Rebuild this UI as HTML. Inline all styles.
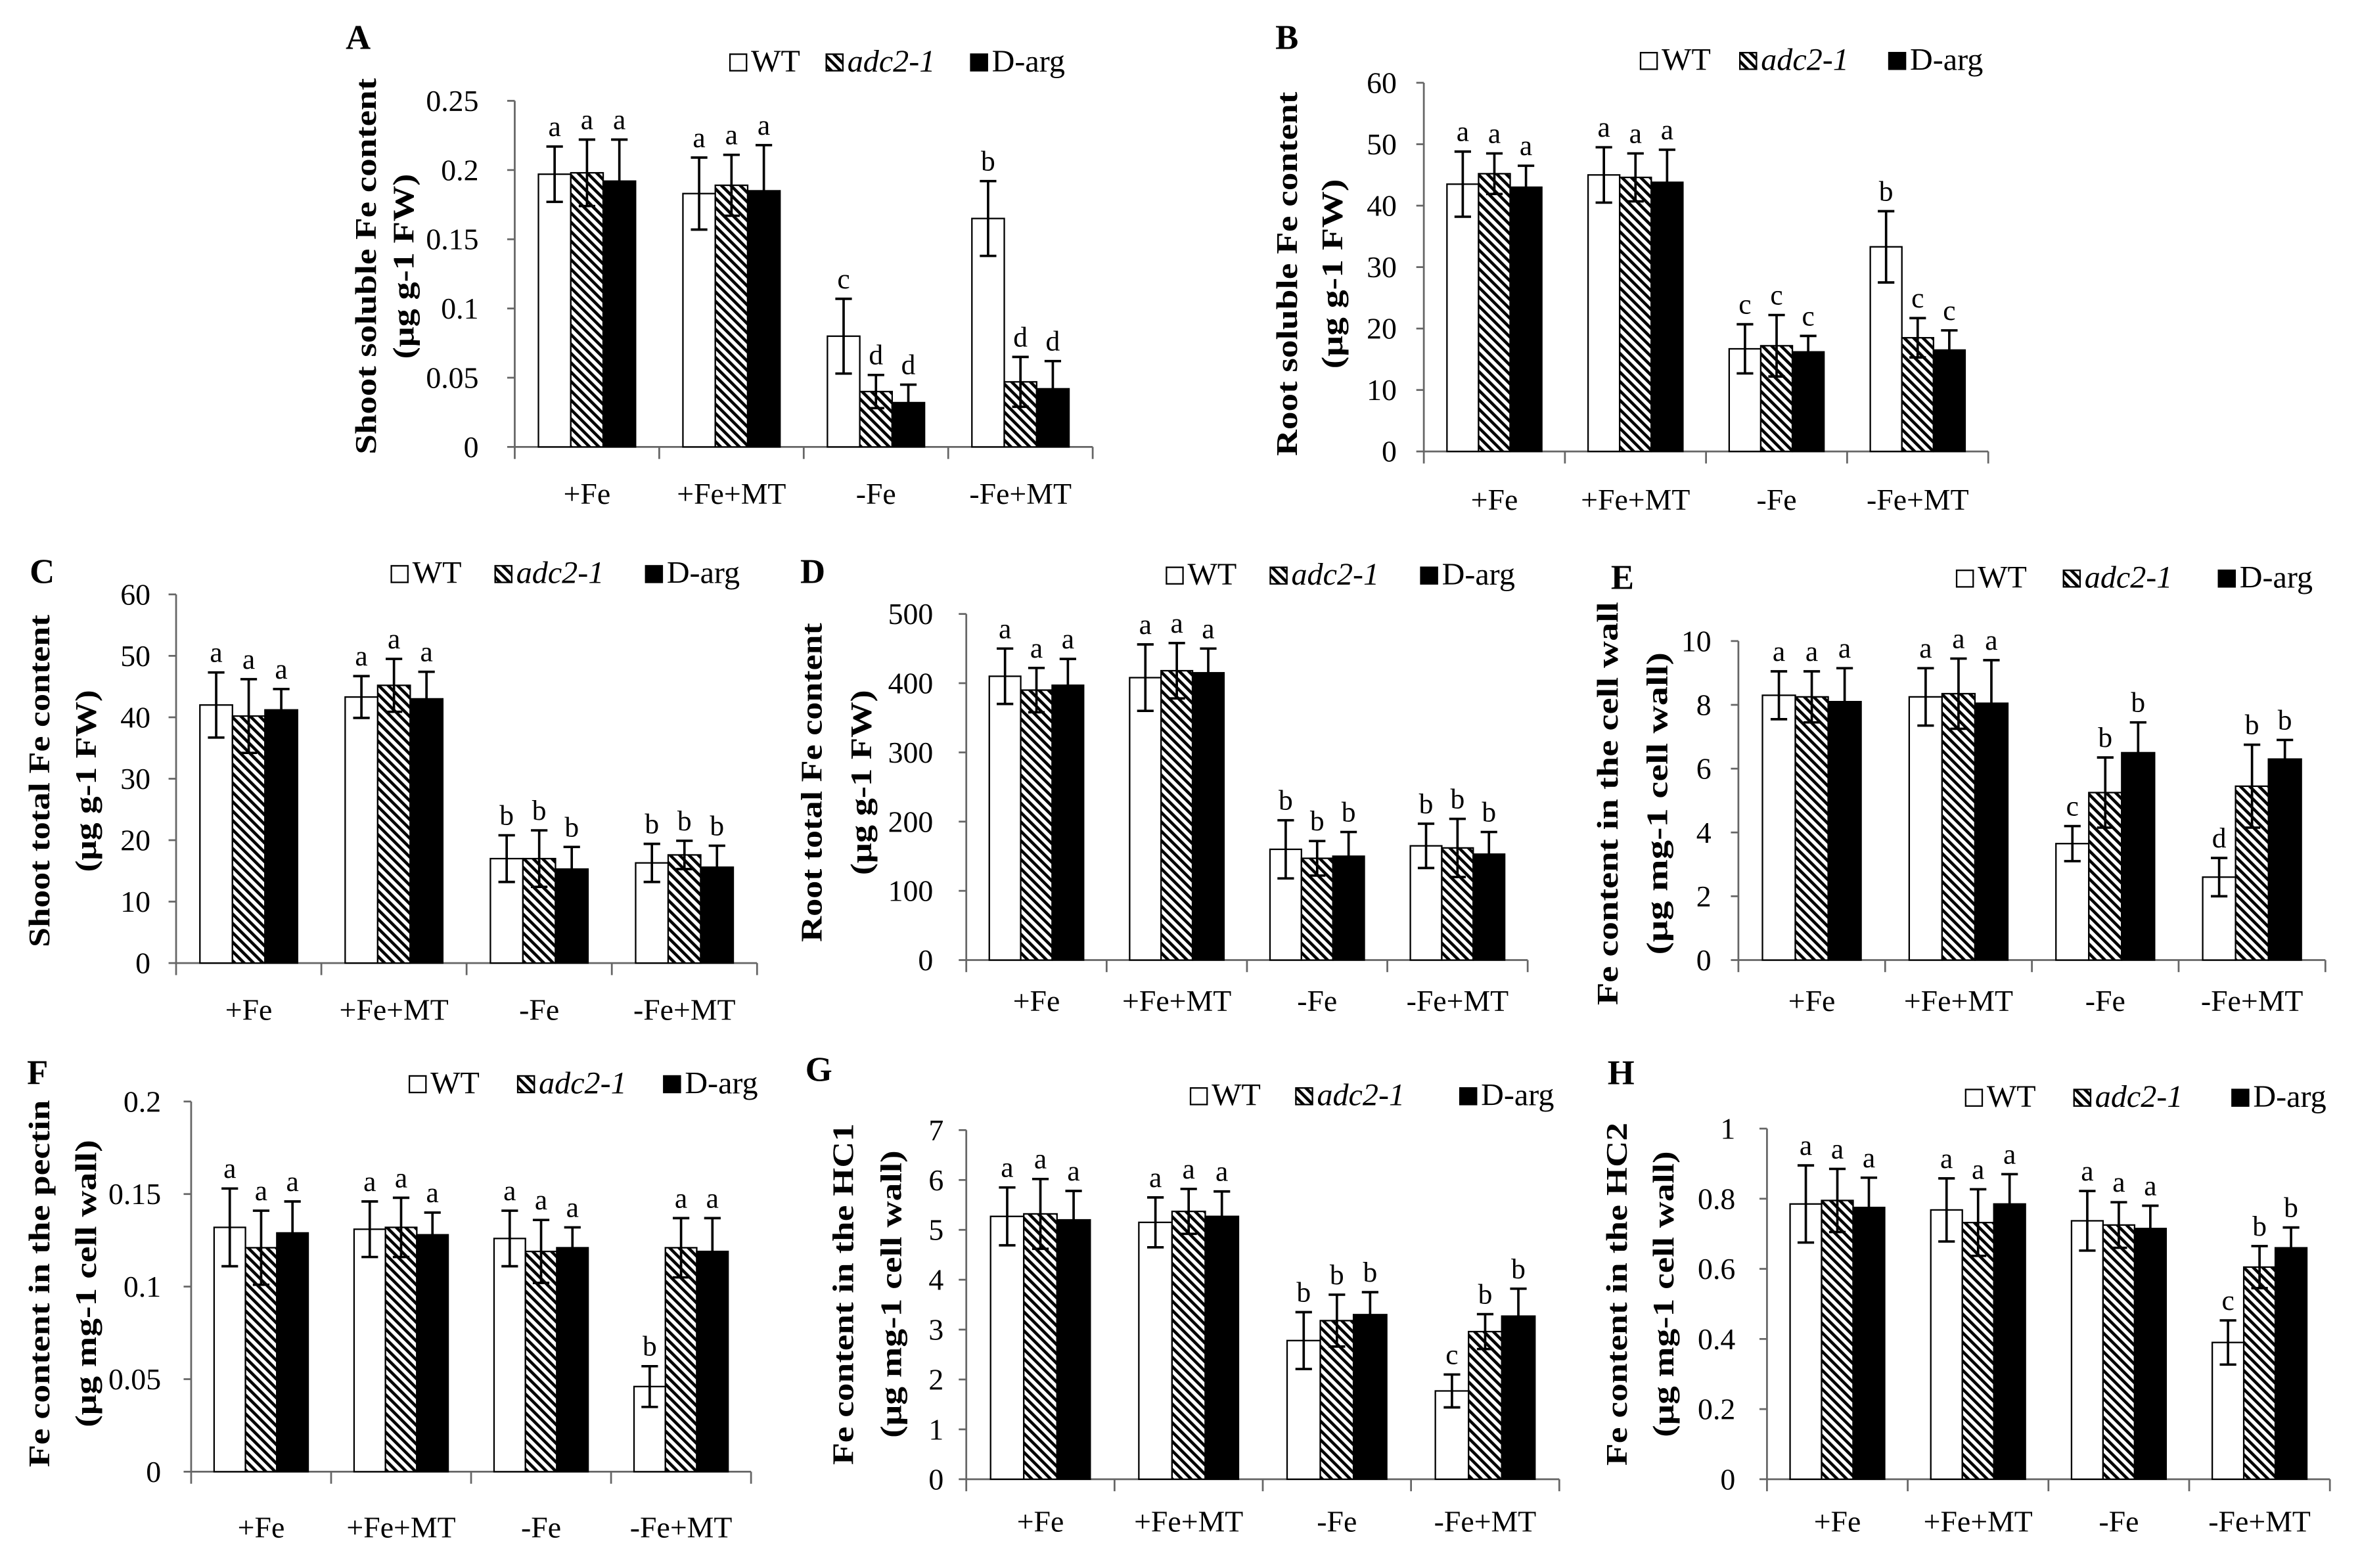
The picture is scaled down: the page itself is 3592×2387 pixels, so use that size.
<!DOCTYPE html>
<html><head><meta charset="utf-8">
<style>
html,body{margin:0;padding:0;background:#fff;}
svg{display:block;}
text{font-family:"Liberation Serif",serif;fill:#000;}
</style></head>
<body>
<svg id="fig" width="3592" height="2387" viewBox="0 0 1568 1042" preserveAspectRatio="none" xmlns="http://www.w3.org/2000/svg">
<defs>
<pattern id="hatch" patternUnits="userSpaceOnUse" width="4.4" height="4.4" patternTransform="rotate(-45)">
<rect width="4.4" height="4.4" fill="#fff"/>
<rect x="0" y="0" width="2" height="4.4" fill="#000"/>
</pattern>
</defs>
</svg>
<script>
// ---- shared data ----
const categories = ["+Fe", "+Fe+MT", "-Fe", "-Fe+MT"];
const seriesNames = ["WT", "adc2-1", "D-arg"];

// Panel A: shoot soluble Fe
const aTicks = [0, 0.05, 0.1, 0.15, 0.2, 0.25];
const aTickLabels = ["0", "0.05", "0.1", "0.15", "0.2", "0.25"];
const aWT = [0.197, 0.183, 0.080, 0.165];
const aAdc = [0.198, 0.189, 0.040, 0.047];
const aDarg = [0.192, 0.185, 0.032, 0.042];
const aErrWT = [0.020, 0.026, 0.027, 0.027];
const aErrAdc = [0.024, 0.022, 0.012, 0.018];
const aErrDarg = [0.030, 0.033, 0.013, 0.020];
const aLetters = [["a","a","a"],["a","a","a"],["c","d","d"],["b","d","d"]];

// Panel B: root soluble Fe
const bTicks = [0, 10, 20, 30, 40, 50, 60];
const bTickLabels = ["0", "10", "20", "30", "40", "50", "60"];
const bWT = [43.5, 45.0, 16.7, 33.3];
const bAdc = [45.2, 44.6, 17.2, 18.5];
const bDarg = [43.0, 43.8, 16.2, 16.5];
const bErrWT = [5.3, 4.5, 4.0, 5.8];
const bErrAdc = [3.3, 3.9, 5.0, 3.2];
const bErrDarg = [3.5, 5.3, 2.6, 3.2];
const bLetters = [["a","a","a"],["a","a","a"],["c","c","c"],["b","c","c"]];

// Panel C: shoot total Fe
const cTicks = [0, 10, 20, 30, 40, 50, 60];
const cTickLabels = ["0", "10", "20", "30", "40", "50", "60"];
const cWT = [42.0, 43.3, 17.0, 16.3];
const cAdc = [40.2, 45.2, 17.0, 17.6];
const cDarg = [41.2, 43.0, 15.3, 15.6];
const cErrWT = [5.3, 3.4, 3.8, 3.1];
const cErrAdc = [6.0, 4.3, 4.6, 2.3];
const cErrDarg = [3.4, 4.4, 3.6, 3.5];
const cLetters = [["a","a","a"],["a","a","a"],["b","b","b"],["b","b","b"]];

// Panel D: root total Fe
const dTicks = [0, 100, 200, 300, 400, 500];
const dTickLabels = ["0", "100", "200", "300", "400", "500"];
const dWT = [410, 408, 160, 165];
const dAdc = [390, 418, 147, 162];
const dDarg = [397, 415, 150, 153];
const dErrWT = [40, 48, 42, 32];
const dErrAdc = [32, 40, 25, 42];
const dErrDarg = [38, 35, 35, 32];
const dLetters = [["a","a","a"],["a","a","a"],["b","b","b"],["b","b","b"]];

// Panel E: Fe in cell wall
const eTicks = [0, 2, 4, 6, 8, 10];
const eTickLabels = ["0", "2", "4", "6", "8", "10"];
const eWT = [8.3, 8.25, 3.65, 2.6];
const eAdc = [8.25, 8.35, 5.25, 5.45];
const eDarg = [8.1, 8.05, 6.5, 6.3];
const eErrWT = [0.75, 0.9, 0.55, 0.6];
const eErrAdc = [0.8, 1.1, 1.1, 1.3];
const eErrDarg = [1.05, 1.35, 0.95, 0.6];
const eLetters = [["a","a","a"],["a","a","a"],["c","b","b"],["d","b","b"]];

// Panel F: Fe in pectin
const fTicks = [0, 0.05, 0.1, 0.15, 0.2];
const fTickLabels = ["0", "0.05", "0.1", "0.15", "0.2"];
const fWT = [0.132, 0.131, 0.126, 0.046];
const fAdc = [0.121, 0.132, 0.119, 0.121];
const fDarg = [0.129, 0.128, 0.121, 0.119];
const fErrWT = [0.021, 0.015, 0.015, 0.011];
const fErrAdc = [0.020, 0.016, 0.017, 0.016];
const fErrDarg = [0.017, 0.012, 0.011, 0.018];
const fLetters = [["a","a","a"],["a","a","a"],["a","a","a"],["b","a","a"]];

// Panel G: Fe in HC1
const gTicks = [0, 1, 2, 3, 4, 5, 6, 7];
const gTickLabels = ["0", "1", "2", "3", "4", "5", "6", "7"];
const gWT = [5.27, 5.15, 2.78, 1.77];
const gAdc = [5.32, 5.37, 3.18, 2.96];
const gDarg = [5.2, 5.27, 3.3, 3.27];
const gErrWT = [0.58, 0.5, 0.57, 0.33];
const gErrAdc = [0.7, 0.45, 0.52, 0.35];
const gErrDarg = [0.58, 0.5, 0.45, 0.55];
const gLetters = [["a","a","a"],["a","a","a"],["b","b","b"],["c","b","b"]];

// Panel H: Fe in HC2
const hTicks = [0, 0.2, 0.4, 0.6, 0.8, 1];
const hTickLabels = ["0", "0.2", "0.4", "0.6", "0.8", "1"];
const hWT = [0.785, 0.768, 0.737, 0.39];
const hAdc = [0.795, 0.732, 0.725, 0.605];
const hDarg = [0.775, 0.785, 0.715, 0.66];
const hErrWT = [0.11, 0.09, 0.085, 0.063];
const hErrAdc = [0.09, 0.095, 0.065, 0.06];
const hErrDarg = [0.085, 0.085, 0.065, 0.058];
const hLetters = [["a","a","a"],["a","a","a"],["a","a","a"],["c","b","b"]];

// ---- layout (display units) ----
const panels = [
 {id:"A", ticks:aTicks, tl:aTickLabels, vals:[aWT,aAdc,aDarg], errs:[aErrWT,aErrAdc,aErrDarg], letters:aLetters,
  x0:342, x1:726, y0:297, yTop:67, ymax:0.25, tickR:318, lab:[238,25], leg:[485,549,645], legY:36, catY:328,
  t1:"Shoot soluble Fe content", t2:"(\u03bcg g-1 FW)", t1x:243, t2x:268, ty:177, t1l:250, t2l:123},
 {id:"B", ticks:bTicks, tl:bTickLabels, vals:[bWT,bAdc,bDarg], errs:[bErrWT,bErrAdc,bErrDarg], letters:bLetters,
  x0:946, x1:1321, y0:300, yTop:55, ymax:60, tickR:928, lab:[855,25], leg:[1090,1156,1255], legY:35, catY:332,
  t1:"Root soluble Fe content", t2:"(\u03bcg g-1 FW)", t1x:855, t2x:885, ty:182, t1l:242, t2l:126},
 {id:"C", ticks:cTicks, tl:cTickLabels, vals:[cWT,cAdc,cDarg], errs:[cErrWT,cErrAdc,cErrDarg], letters:cLetters,
  x0:117, x1:503, y0:640, yTop:395, ymax:60, tickR:100, lab:[28,380], leg:[260,329,429], legY:376, catY:671,
  t1:"Shoot total Fe content", t2:"(\u03bcg g-1 FW)", t1x:26, t2x:57, ty:519, t1l:221, t2l:121},
 {id:"D", ticks:dTicks, tl:dTickLabels, vals:[dWT,dAdc,dDarg], errs:[dErrWT,dErrAdc,dErrDarg], letters:dLetters,
  x0:642, x1:1015, y0:638, yTop:408, ymax:500, tickR:620, lab:[540,380], leg:[775,844,944], legY:377, catY:665,
  t1:"Root total Fe content", t2:"(\u03bcg g-1 FW)", t1x:539, t2x:572, ty:520, t1l:212, t2l:123},
 {id:"E", ticks:eTicks, tl:eTickLabels, vals:[eWT,eAdc,eDarg], errs:[eErrWT,eErrAdc,eErrDarg], letters:eLetters,
  x0:1155, x1:1545, y0:638, yTop:426, ymax:10, tickR:1137, lab:[1078,384], leg:[1300,1371,1474], legY:379, catY:665,
  t1:"Fe content  in the cell wall", t2:"(\u03bcg mg-1 cell wall)", t1x:1068, t2x:1101, ty:534, t1l:268, t2l:201},
 {id:"F", ticks:fTicks, tl:fTickLabels, vals:[fWT,fAdc,fDarg], errs:[fErrWT,fErrAdc,fErrDarg], letters:fLetters,
  x0:127, x1:499, y0:978, yTop:732, ymax:0.2, tickR:107, lab:[25,713], leg:[272,344,441], legY:715, catY:1015,
  t1:"Fe content  in the pectin", t2:"(\u03bcg mg-1 cell wall)", t1x:26, t2x:57, ty:853, t1l:244, t2l:191},
 {id:"G", ticks:gTicks, tl:gTickLabels, vals:[gWT,gAdc,gDarg], errs:[gErrWT,gErrAdc,gErrDarg], letters:gLetters,
  x0:642, x1:1036, y0:983, yTop:751, ymax:7, tickR:627, lab:[544,711], leg:[791,861,970], legY:723, catY:1011,
  t1:"Fe content  in the HC1", t2:"(\u03bcg mg-1 cell wall)", t1x:560, t2x:592, ty:860, t1l:227, t2l:191},
 {id:"H", ticks:hTicks, tl:hTickLabels, vals:[hWT,hAdc,hDarg], errs:[hErrWT,hErrAdc,hErrDarg], letters:hLetters,
  x0:1174, x1:1548, y0:983, yTop:750, ymax:1, tickR:1153, lab:[1077,713], leg:[1306,1378,1483], legY:724, catY:1011,
  t1:"Fe content  in the HC2", t2:"(\u03bcg mg-1 cell wall)", t1x:1074, t2x:1105, ty:860, t1l:228, t2l:190}
];

const NS = "http://www.w3.org/2000/svg";
const svg = document.getElementById("fig");
function mk(tag, attrs, parent) {
  const e = document.createElementNS(NS, tag);
  for (const k in attrs) e.setAttribute(k, attrs[k]);
  parent.appendChild(e);
  return e;
}
const fills = ["#fff", "url(#hatch)", "#000"];
const seriesKeys = ["wt", "adc2-1", "d-arg"];

panels.forEach(p => {
  const g = mk("g", {}, svg);
  
  
  const yS = v => p.y0 - (v / p.ymax) * (p.y0 - p.yTop);
  const catW = (p.x1 - p.x0) / categories.length;
  const barW = catW * 0.224;

  const pl = mk("text", {x:p.lab[0], y:p.lab[1], "text-anchor":"middle", "dominant-baseline":"central", "font-size":23, "font-weight":"bold"}, g);
  pl.textContent = p.id;
  
  

  const t1 = mk("text", {x:0, y:0, transform:`translate(${p.t1x},${p.ty}) rotate(-90)`, "text-anchor":"middle", "dominant-baseline":"central", "font-size":20, "font-weight":"bold", textLength:p.t1l, lengthAdjust:"spacingAndGlyphs", "xml:space":"preserve"}, g);
  t1.textContent = p.t1;
  
  
  const t2 = mk("text", {x:0, y:0, transform:`translate(${p.t2x},${p.ty}) rotate(-90)`, "text-anchor":"middle", "dominant-baseline":"central", "font-size":20, "font-weight":"bold", textLength:p.t2l, lengthAdjust:"spacingAndGlyphs"}, g);
  t2.textContent = p.t2;
  
  

  const ya = mk("line", {x1:p.x0, y1:p.yTop, x2:p.x0, y2:p.y0, stroke:"#666", "stroke-width":1.2}, g);
  
  
  const xa = mk("line", {x1:p.x0, y1:p.y0, x2:p.x1, y2:p.y0, stroke:"#666", "stroke-width":1.2}, g);
  
  

  p.ticks.forEach((t, i) => {
    const y = yS(t);
    mk("line", {x1:p.x0 - 5, y1:y, x2:p.x0, y2:y, stroke:"#666", "stroke-width":1.2}, g);
    const tx = mk("text", {x:p.tickR, y:y, "text-anchor":"end", "dominant-baseline":"central", "font-size":20}, g);
    tx.textContent = p.tl[i];
    
    
  });
  for (let i = 0; i <= categories.length; i++) {
    const x = p.x0 + i * catW;
    mk("line", {x1:x, y1:p.y0, x2:x, y2:p.y0 + 8, stroke:"#666", "stroke-width":1.2}, g);
  }
  categories.forEach((c, ci) => {
    const cx = p.x0 + (ci + 0.5) * catW;
    const ct = mk("text", {x:cx, y:p.catY, "text-anchor":"middle", "dominant-baseline":"central", "font-size":20}, g);
    ct.textContent = c;
    
    
    for (let s = 0; s < 3; s++) {
      const v = p.vals[s][ci], e = p.errs[s][ci];
      const bx = cx - 1.5 * barW + s * barW;
      const by = yS(v);
      const r = mk("rect", {x:bx, y:by, width:barW, height:p.y0 - by, fill:fills[s], stroke:"#000", "stroke-width":1}, g);
      
      
      const mx = bx + barW / 2, yt = yS(v + e), yb = yS(Math.max(0, v - e));
      const eb = mk("path", {d:`M${mx},${yb}V${yt}M${mx-5.5},${yt}H${mx+5.5}M${mx-5.5},${yb}H${mx+5.5}`, stroke:"#000", "stroke-width":1.6, fill:"none"}, g);
      
      
      const lt = mk("text", {x:mx, y:yt - 7, "text-anchor":"middle", "font-size":19}, g);
      lt.textContent = p.letters[ci][s];
      
      
    }
  });

  for (let s = 0; s < 3; s++) {
    const lx = p.leg[s];
    const lg = mk("g", {}, g);
    
    
    mk("rect", {x:lx, y:p.legY, width:11, height:11, fill:fills[s], stroke:"#000", "stroke-width":1}, lg);
    const lt = mk("text", {x:lx + 14, y:p.legY + 11.5, "font-size":21, "font-style": s === 1 ? "italic" : "normal"}, lg);
    lt.textContent = seriesNames[s];
  }
});
</script>
</body></html>
